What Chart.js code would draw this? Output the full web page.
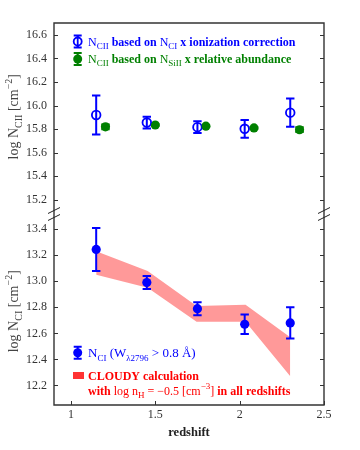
<!DOCTYPE html>
<html><head><meta charset="utf-8">
<script src="https://cdn.jsdelivr.net/npm/chart.js@4/dist/chart.umd.min.js"></script>
<style>html,body{margin:0;padding:0;background:#fff;} canvas{display:block;}</style>
</head><body>
<canvas id="c" width="360" height="450"></canvas>
<script>
// ---- data ----
const redshiftCII = [1.15, 1.45, 1.75, 2.03, 2.30];
const logNCII_fromCI = [15.92, 15.856, 15.817, 15.803, 15.94];
const errCII_fromCI = [0.165, 0.05, 0.05, 0.075, 0.12];
const redshiftSiII = [1.205, 1.50, 1.80, 2.085, 2.355];
const logNCII_fromSiII = [15.82, 15.835, 15.825, 15.81, 15.795];
const errCII_fromSiII = [0.02, 0.006, 0.006, 0.006, 0.02];
const redshiftCI = [1.15, 1.45, 1.75, 2.03, 2.30];
const logNCI = [13.245, 12.99, 12.79, 12.67, 12.68];
const errCI = [0.165, 0.05, 0.05, 0.075, 0.12];
const cloudyZ = [1.15, 1.455, 1.745, 2.035, 2.30];
const cloudyUpper = [13.23, 13.08, 12.81, 12.82, 12.57];
const cloudyLower = [13.05, 12.95, 12.69, 12.69, 12.27];
const xTicks = [1, 1.5, 2, 2.5];
const yTicksTop = [15.2, 15.4, 15.6, 15.8, 16.0, 16.2, 16.4, 16.6];
const yTicksBot = [12.2, 12.4, 12.6, 12.8, 13.0, 13.2, 13.4];

// ---- text (rich segments: sub / sup / bold) ----
const titleTop = [{t:'log N'},{t:'CII',sub:1},{t:' [cm'},{t:'\u22122',sup:1},{t:']'}];
const titleBot = [{t:'log N'},{t:'CI',sub:1},{t:' [cm'},{t:'\u22122',sup:1},{t:']'}];
const legendCII_CI = [{t:'N'},{t:'CII',sub:1},{t:' based on ',b:1},{t:'N'},{t:'CI',sub:1},{t:' x ionization correction',b:1}];
const legendCII_SiII = [{t:'N'},{t:'CII',sub:1},{t:' based on ',b:1},{t:'N'},{t:'SiII',sub:1},{t:' x relative abundance',b:1}];
const legendCI = [{t:'N'},{t:'CI',sub:1},{t:' (W'},{t:'\u03bb2796',sub:1},{t:' > 0.8 \u00c5)'}];
const legendCloudy1 = [{t:'CLOUDY calculation',b:1}];
const legendCloudy2 = [{t:'with ',b:1},{t:'log n'},{t:'H',sub:1},{t:' = \u22120.5 [cm'},{t:'\u22123',sup:1},{t:']'},{t:' in all redshifts',b:1}];

const BLUE = '#0000ff', GREEN = '#008000', RED = '#ff0000', BAND = '#ff9999';
const SERIF = '"Liberation Serif", "DejaVu Serif", serif';
const pts = (xs, ys) => xs.map((x, i) => ({x: x, y: ys[i]}));

function segFont(s, size) {
  const sz = (s.sub || s.sup) ? Math.round(size * 0.72) : size;
  return (s.b ? 'bold ' : '') + sz + 'px ' + SERIF;
}
function drawRich(ctx, segs, x, y, size, color, align) {
  ctx.save();
  ctx.fillStyle = color;
  ctx.textBaseline = 'alphabetic';
  ctx.textAlign = 'left';
  let total = 0;
  segs.forEach(s => { ctx.font = segFont(s, size); total += ctx.measureText(s.t).width; });
  let cx = align === 'center' ? x - total / 2 : x;
  segs.forEach(s => {
    ctx.font = segFont(s, size);
    const dy = s.sub ? size * 0.28 : (s.sup ? -size * 0.42 : 0);
    ctx.fillText(s.t, cx, y + dy);
    cx += ctx.measureText(s.t).width;
  });
  ctx.restore();
}
function errBar(ctx, x, yA, yB, cap, color, lw) {
  ctx.save();
  ctx.strokeStyle = color; ctx.lineWidth = lw;
  ctx.beginPath();
  ctx.moveTo(x, yA); ctx.lineTo(x, yB);
  ctx.moveTo(x - cap, yA); ctx.lineTo(x + cap, yA);
  ctx.moveTo(x - cap, yB); ctx.lineTo(x + cap, yB);
  ctx.stroke();
  ctx.restore();
}

const errorSets = [
  {xs: redshiftCII, ys: logNCII_fromCI, es: errCII_fromCI, axis: 'yTop', color: BLUE},
  {xs: redshiftSiII, ys: logNCII_fromSiII, es: errCII_fromSiII, axis: 'yTop', color: GREEN},
  {xs: redshiftCI, ys: logNCI, es: errCI, axis: 'yBot', color: BLUE}
];

const decor = {
  id: 'decor',
  afterDatasetsDraw(chart) {
    const ctx = chart.ctx, xs = chart.scales.x;
    errorSets.forEach(set => {
      const ys = chart.scales[set.axis];
      set.xs.forEach((xv, i) => {
        const px = xs.getPixelForValue(xv);
        errBar(ctx, px, ys.getPixelForValue(set.ys[i] + set.es[i]), ys.getPixelForValue(set.ys[i] - set.es[i]), 4.2, set.color, 2);
      });
    });
  },
  afterDraw(chart) {
    const ctx = chart.ctx, a = chart.chartArea;
    const xs = chart.scales.x, yT = chart.scales.yTop, yB = chart.scales.yBot;
    ctx.save();
    // frame
    ctx.strokeStyle = '#333'; ctx.lineWidth = 1.4;
    ctx.beginPath();
    ctx.moveTo(a.left, a.top); ctx.lineTo(a.left, a.bottom);
    ctx.moveTo(a.right, a.top); ctx.lineTo(a.right, a.bottom);
    ctx.moveTo(a.left - 0.7, a.top); ctx.lineTo(a.right + 0.7, a.top);
    ctx.moveTo(a.left - 0.7, a.bottom); ctx.lineTo(a.right + 0.7, a.bottom);
    ctx.stroke();
    // inward ticks
    ctx.lineWidth = 1;
    ctx.beginPath();
    const TL = 4;
    [[yT, yTicksTop], [yB, yTicksBot]].forEach(([sc, tks]) => {
      tks.forEach(v => {
        const p = Math.round(sc.getPixelForValue(v)) + 0.5;
        ctx.moveTo(a.left, p); ctx.lineTo(a.left + TL, p);
        ctx.moveTo(a.right, p); ctx.lineTo(a.right - TL, p);
      });
    });
    xTicks.forEach(v => {
      const p = Math.round(xs.getPixelForValue(v)) + 0.5;
      ctx.moveTo(p, a.bottom); ctx.lineTo(p, a.bottom - TL);
    });
    ctx.stroke();
    // break marks
    ctx.strokeStyle = '#222'; ctx.lineWidth = 1;
    ctx.beginPath();
    [a.left, a.right].forEach(x => {
      [yT.bottom, yB.top].forEach(y => {
        ctx.moveTo(x - 6, y + 3); ctx.lineTo(x + 6, y - 3);
      });
    });
    ctx.stroke();
    ctx.restore();

    // axis titles
    [[titleTop, (yT.top + yT.bottom) / 2], [titleBot, (yB.top + yB.bottom) / 2]].forEach(([segs, cy]) => {
      ctx.save();
      ctx.translate(18, cy);
      ctx.rotate(-Math.PI / 2);
      drawRich(ctx, segs, 0, 0, 14, '#444', 'center');
      ctx.restore();
    });

    // legends (top panel)
    const lx = 77.7, tx = 88;
    const l1 = 41.5, l2 = 59;
    errBar(ctx, lx, l1 - 6, l1 + 6, 4, BLUE, 2);
    ctx.save(); ctx.strokeStyle = BLUE; ctx.lineWidth = 1.8;
    ctx.beginPath(); ctx.arc(lx, l1, 4, 0, 2 * Math.PI); ctx.fillStyle = '#fff'; ctx.fill(); ctx.stroke();
    ctx.beginPath(); ctx.moveTo(lx, l1 - 6); ctx.lineTo(lx, l1 + 6); ctx.stroke(); ctx.restore();
    drawRich(ctx, legendCII_CI, tx, l1 + 4, 12, BLUE, 'left');
    errBar(ctx, lx, l2 - 6, l2 + 6, 4, GREEN, 2);
    ctx.save(); ctx.fillStyle = GREEN; ctx.beginPath(); ctx.arc(lx, l2, 4.5, 0, 2 * Math.PI); ctx.fill(); ctx.restore();
    drawRich(ctx, legendCII_SiII, tx, l2 + 4, 12, GREEN, 'left');

    // legends (bottom panel)
    const l3 = 352.7, l4 = 375.5, l5 = 390.5;
    errBar(ctx, lx, l3 - 6, l3 + 6, 4, BLUE, 2);
    ctx.save(); ctx.fillStyle = BLUE; ctx.beginPath(); ctx.arc(lx, l3, 4.5, 0, 2 * Math.PI); ctx.fill(); ctx.restore();
    drawRich(ctx, legendCI, tx, l3 + 4.5, 13, BLUE, 'left');
    ctx.save(); ctx.fillStyle = '#ff3333'; ctx.fillRect(73, l4 - 3.5, 11, 7); ctx.restore();
    drawRich(ctx, legendCloudy1, tx, l4 + 4, 12, RED, 'left');
    drawRich(ctx, legendCloudy2, tx, l5 + 4, 12, RED, 'left');
  }
};

const tickFont = {family: SERIF, size: 12};
const yScaleBase = (min, max, ticks, weight) => ({
  type: 'linear', position: 'left', stack: 'ys', stackWeight: weight,
  min: min, max: max,
  afterBuildTicks: s => { s.ticks = ticks.map(v => ({value: v})); },
  afterFit: s => { s.width = 54; },
  ticks: {font: tickFont, color: '#333', padding: 7, autoSkip: false, callback: v => v.toFixed(1)},
  grid: {display: false, drawTicks: false},
  border: {display: false}
});

new Chart(document.getElementById('c'), {
  type: 'scatter',
  data: {
    datasets: [
      {label: 'NCII from NCI', data: pts(redshiftCII, logNCII_fromCI), yAxisID: 'yTop',
       pointRadius: 4.3, pointBorderWidth: 1.8, borderColor: BLUE, backgroundColor: 'rgba(0,0,0,0)', order: 1},
      {label: 'NCII from NSiII', data: pts(redshiftSiII, logNCII_fromSiII), yAxisID: 'yTop',
       pointRadius: 4.6, pointBorderWidth: 0, borderColor: GREEN, backgroundColor: GREEN, order: 2},
      {label: 'NCI', data: pts(redshiftCI, logNCI), yAxisID: 'yBot',
       pointRadius: 4.6, pointBorderWidth: 0, borderColor: BLUE, backgroundColor: BLUE, order: 1},
      {type: 'line', label: 'CLOUDY upper', data: pts(cloudyZ, cloudyUpper), yAxisID: 'yBot',
       pointRadius: 0, borderWidth: 0, borderColor: BAND, backgroundColor: BAND, fill: '+1', tension: 0, order: 10},
      {type: 'line', label: 'CLOUDY lower', data: pts(cloudyZ, cloudyLower), yAxisID: 'yBot',
       pointRadius: 0, borderWidth: 0, borderColor: BAND, backgroundColor: BAND, fill: false, tension: 0, order: 11}
    ]
  },
  options: {
    responsive: false,
    animation: false,
    events: [],
    layout: {padding: {top: 23, right: 36, left: 0, bottom: 0}},
    plugins: {legend: {display: false}, tooltip: {enabled: false}},
    scales: {
      x: {
        type: 'linear', position: 'bottom', min: 0.9, max: 2.5,
        afterBuildTicks: s => { s.ticks = xTicks.map(v => ({value: v})); },
        afterFit: s => { s.height = 45; },
        ticks: {font: tickFont, color: '#333', padding: 3, maxRotation: 0, autoSkip: false, callback: v => String(v)},
        grid: {display: false, drawTicks: false},
        border: {display: false},
        title: {display: true, text: 'redshift', font: {family: SERIF, size: 12.5, weight: 'bold'}, color: '#222', padding: {top: 2, bottom: 10}}
      },
      yBot: yScaleBase(12.05, 13.49, yTicksBot, 188),
      yGap: {
        type: 'linear', position: 'left', stack: 'ys', stackWeight: 7, min: 0, max: 1,
        afterFit: s => { s.width = 54; },
        ticks: {display: false}, grid: {display: false, drawTicks: false}, border: {display: false}
      },
      yTop: yScaleBase(15.11, 16.70, yTicksTop, 188)
    }
  },
  plugins: [decor]
});
</script>
</body></html>
